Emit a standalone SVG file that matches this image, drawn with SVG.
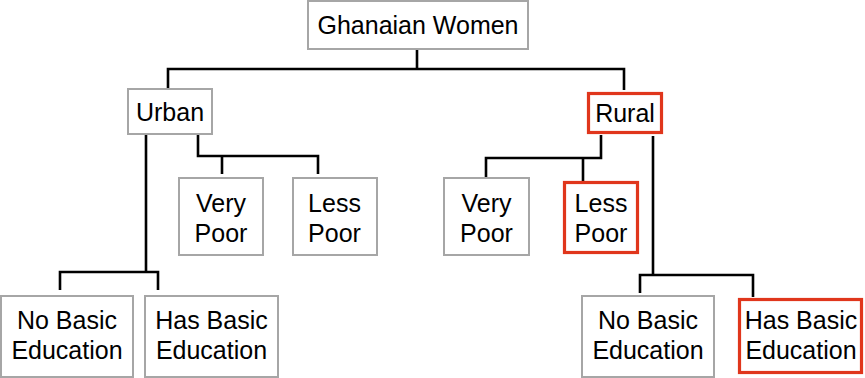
<svg xmlns="http://www.w3.org/2000/svg" width="865" height="378" viewBox="0 0 865 378">
<style>
.box{fill:#fff;stroke:#a6a6a6;stroke-width:2}
.hl{fill:#fff;stroke:#e0361c;stroke-width:3.2}
.t{font-family:"Liberation Sans",Arial,Helvetica,sans-serif;font-size:25px;fill:#000;text-anchor:middle}
.c{fill:none;stroke:#000;stroke-width:2.6;stroke-linejoin:miter}
</style>
<rect width="865" height="378" fill="#fff"/>
<g id="connectors">
<path class="c" d="M417,49V69M168,89V69H624V90"/>
<path class="c" d="M146,134V272M60,290V272H158V290"/>
<path class="c" d="M198,134V156H318V174M222,156V174"/>
<path class="c" d="M601,135V158H486V177M583,158V181"/>
<path class="c" d="M653,136V275M640,293V275H753V297"/>
</g>
<g id="ghanaian-women"><rect class="box" x="308" y="1" width="220" height="48"/><text class="t" x="418" y="34">Ghanaian Women</text></g>
<g id="urban"><rect class="box" x="128" y="89" width="84" height="45"/><text class="t" x="170" y="121">Urban</text></g>
<g id="rural"><rect class="hl" x="588.5" y="93.5" width="73" height="39"/><text class="t" x="625" y="122">Rural</text></g>
<g id="urban-very-poor"><rect class="box" x="179" y="178" width="84" height="77"/><text class="t" x="221" y="212">Very</text><text class="t" x="221" y="242">Poor</text></g>
<g id="urban-less-poor"><rect class="box" x="293" y="178" width="84" height="77"/><text class="t" x="334.5" y="212">Less</text><text class="t" x="334.5" y="242">Poor</text></g>
<g id="rural-very-poor"><rect class="box" x="444" y="178" width="85" height="77"/><text class="t" x="486.5" y="212">Very</text><text class="t" x="486.5" y="242">Poor</text></g>
<g id="rural-less-poor"><rect class="hl" x="564.5" y="182.5" width="73" height="70"/><text class="t" x="601" y="212">Less</text><text class="t" x="601" y="242">Poor</text></g>
<g id="urban-no-basic"><rect class="box" x="1" y="296" width="132" height="81"/><text class="t" x="67" y="329">No Basic</text><text class="t" x="67" y="359">Education</text></g>
<g id="urban-has-basic"><rect class="box" x="145" y="296" width="133" height="81"/><text class="t" x="211.5" y="329">Has Basic</text><text class="t" x="211.5" y="359">Education</text></g>
<g id="rural-no-basic"><rect class="box" x="582" y="296" width="132" height="81"/><text class="t" x="648" y="329">No Basic</text><text class="t" x="648" y="359">Education</text></g>
<g id="rural-has-basic"><rect class="hl" x="739.5" y="299.5" width="122" height="73"/><text class="t" x="801" y="329">Has Basic</text><text class="t" x="801" y="359">Education</text></g>
</svg>
